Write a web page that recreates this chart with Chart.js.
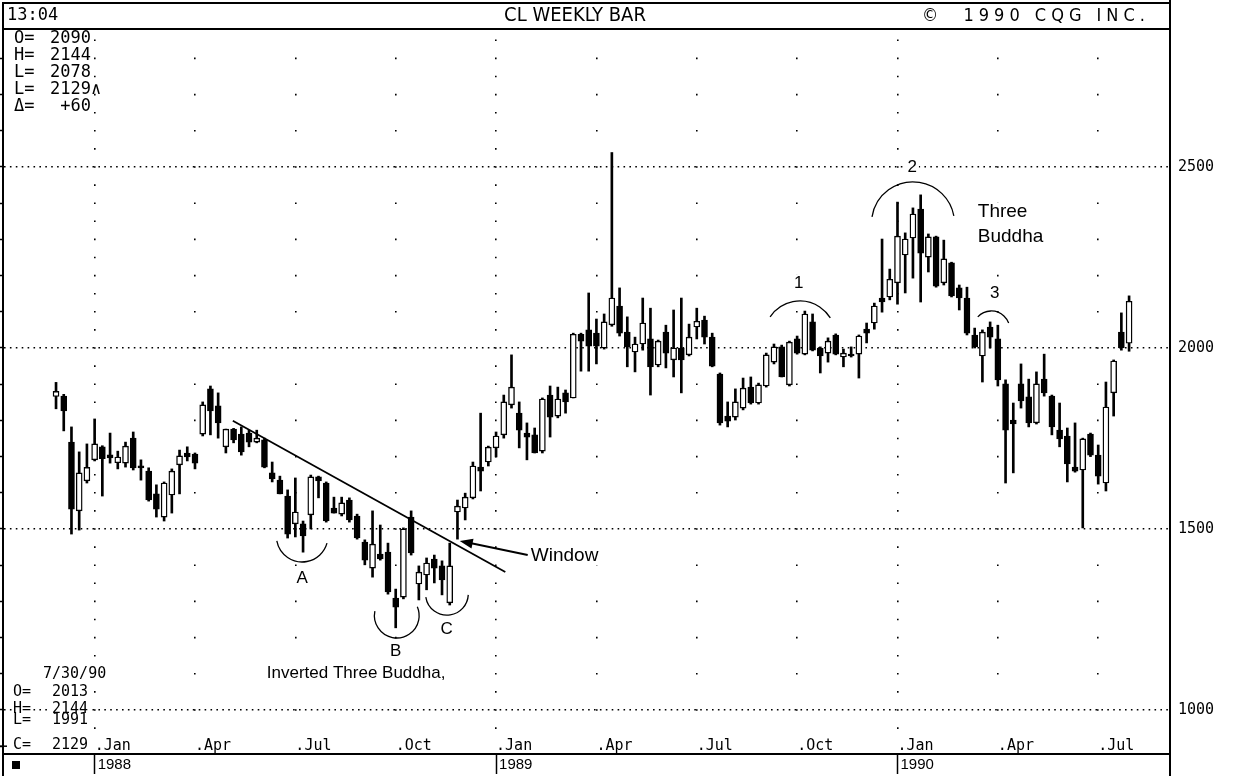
<!DOCTYPE html>
<html>
<head>
<meta charset="utf-8">
<title>CL Weekly Bar</title>
<script src="https://cdn.jsdelivr.net/npm/chart.js@4.4.1/dist/chart.umd.min.js"></script>
<style>
  html, body { margin: 0; padding: 0; background: #fff; }
  #wrap { width: 1239px; height: 776px; }
</style>
</head>
<body>
<div id="wrap"><canvas id="chart" width="1239" height="776"></canvas></div>
<script>
// weekly bars, week of 11/30/87 (index 0) through week of 7/30/90 (index 139)
const open = [
  1866, 1867, 1740, 1550, 1633, 1691, 1727, 1705, 1683, 1682,
  1751, 1674, 1660, 1597, 1533, 1594, 1677, 1710, 1707, 1762,
  1887, 1840, 1727, 1776, 1762, 1765, 1740, 1746, 1655, 1635,
  1591, 1514, 1514, 1539, 1644, 1627, 1558, 1541, 1580, 1536,
  1464, 1392, 1431, 1436, 1309, 1312, 1533, 1348, 1373, 1417,
  1398, 1296, 1547, 1558, 1586, 1671, 1685, 1724, 1760, 1843,
  1820, 1765, 1760, 1715, 1870, 1812, 1876, 1862, 2038, 2050,
  2041, 2000, 2064, 2116, 2044, 1989, 2011, 2025, 1953, 2044,
  1967, 2000, 1981, 2058, 2077, 2030, 1928, 1812, 1809, 1834,
  1892, 1848, 1895, 1961, 2003, 1898, 2025, 1983, 2072, 2000,
  1986, 2036, 1975, 1983, 1983, 2052, 2069, 2138, 2141, 2180,
  2257, 2304, 2384, 2251, 2307, 2180, 2235, 2166, 2138, 2036,
  1978, 2058, 2025, 1901, 1801, 1901, 1865, 1793, 1914, 1867,
  1773, 1757, 1671, 1663, 1762, 1704, 1627, 1876, 2044, 2013
];
const high = [
  1905, 1872, 1782, 1713, 1735, 1804, 1730, 1765, 1715, 1740,
  1768, 1691, 1669, 1622, 1630, 1666, 1718, 1727, 1710, 1851,
  1895, 1876, 1776, 1778, 1782, 1773, 1773, 1751, 1685, 1646,
  1608, 1641, 1522, 1649, 1646, 1630, 1588, 1588, 1586, 1541,
  1470, 1550, 1511, 1461, 1334, 1503, 1550, 1398, 1420, 1428,
  1412, 1461, 1580, 1599, 1685, 1820, 1729, 1768, 1870, 1981,
  1851, 1793, 1779, 1862, 1895, 1892, 1884, 2041, 2041, 2152,
  2080, 2094, 2540, 2166, 2086, 2030, 2138, 2110, 2022, 2063,
  2105, 2138, 2066, 2110, 2088, 2041, 1931, 1851, 1887, 1917,
  1920, 1903, 1986, 2011, 2008, 2019, 2033, 2102, 2094, 2003,
  2028, 2039, 1997, 2003, 2036, 2069, 2124, 2301, 2218, 2403,
  2318, 2387, 2423, 2315, 2309, 2298, 2237, 2174, 2168, 2055,
  2050, 2072, 2063, 1912, 1848, 1956, 1914, 1934, 1983, 1870,
  1848, 1779, 1793, 1751, 1765, 1732, 1906, 1967, 2097, 2144
];
const low = [
  1832, 1771, 1486, 1497, 1627, 1688, 1591, 1682, 1666, 1671,
  1663, 1635, 1577, 1533, 1522, 1544, 1597, 1688, 1666, 1757,
  1760, 1751, 1710, 1738, 1704, 1727, 1738, 1669, 1630, 1597,
  1475, 1478, 1436, 1500, 1586, 1519, 1544, 1536, 1519, 1472,
  1401, 1367, 1414, 1320, 1227, 1307, 1428, 1304, 1332, 1351,
  1318, 1290, 1472, 1525, 1583, 1605, 1674, 1699, 1751, 1834,
  1724, 1691, 1710, 1710, 1754, 1807, 1820, 1862, 1936, 1936,
  1956, 1997, 2060, 2033, 1948, 1934, 1994, 1870, 1948, 1945,
  1920, 1876, 1978, 2025, 2011, 1948, 1787, 1782, 1801, 1829,
  1845, 1845, 1892, 1956, 1920, 1895, 1983, 1981, 1992, 1931,
  1961, 1981, 1948, 1975, 1917, 2014, 2052, 2099, 2133, 2121,
  2152, 2193, 2127, 2210, 2168, 2174, 2141, 2105, 2036, 2000,
  1906, 2000, 1895, 1627, 1655, 1834, 1782, 1790, 1867, 1760,
  1727, 1630, 1657, 1503, 1700, 1624, 1605, 1812, 1994, 1991
];
const close = [
  1880, 1826, 1555, 1655, 1670, 1735, 1694, 1696, 1699, 1729,
  1669, 1669, 1580, 1555, 1627, 1660, 1702, 1699, 1682, 1843,
  1826, 1793, 1776, 1746, 1713, 1740, 1751, 1671, 1638, 1597,
  1486, 1547, 1481, 1644, 1633, 1522, 1544, 1572, 1525, 1475,
  1414, 1458, 1417, 1326, 1284, 1500, 1434, 1381, 1406, 1392,
  1359, 1398, 1563, 1588, 1674, 1660, 1726, 1757, 1851, 1892,
  1773, 1754, 1710, 1859, 1809, 1859, 1851, 2038, 2019, 2005,
  2005, 2072, 2138, 2041, 2003, 2011, 2069, 1948, 2019, 1986,
  2000, 1967, 2030, 2074, 2030, 1950, 1793, 1798, 1851, 1889,
  1848, 1898, 1981, 2003, 1920, 2016, 1986, 2094, 1994, 1978,
  2019, 1983, 1986, 1978, 2033, 2041, 2116, 2127, 2190, 2309,
  2301, 2370, 2262, 2307, 2171, 2246, 2144, 2138, 2041, 2003,
  2044, 2030, 1912, 1773, 1790, 1854, 1793, 1901, 1876, 1782,
  1749, 1680, 1660, 1749, 1704, 1646, 1837, 1964, 2000, 2129
];

// first bar of each quarter, and its label
const quarterTicks = [5, 18, 31, 44, 57, 70, 83, 96, 109, 122, 135];
const quarterLabels = ['.Jan', '.Apr', '.Jul', '.Oct', '.Jan', '.Apr', '.Jul', '.Oct', '.Jan', '.Apr', '.Jul'];
const yearTicks = [5, 57, 109];
const yearLabels = ['1988', '1989', '1990'];
const priceTicks = [900, 1000, 1100, 1200, 1300, 1400, 1500, 1600, 1700, 1800, 1900,
                    2000, 2100, 2200, 2300, 2400, 2500, 2600, 2700, 2800];

const MONO = '"DejaVu Sans Mono", "Liberation Mono", monospace';
const SANS = '"Liberation Sans", Arial, sans-serif';
const NARROW = '"Liberation Sans Narrow", "DejaVu Sans Condensed", "Liberation Sans", sans-serif';

// dotted vertical grid: a dot every 100 (every 50 on year lines)
function vDash(c) {
  const ys = c.chart.scales.y;
  const step = c.tick && yearTicks.includes(c.tick.value) ? 50 : 100;
  const unit = (ys.bottom - ys.top) / (ys.max - ys.min);
  const period = step * unit;
  const p0 = (ys.max - Math.floor(ys.max / step) * step) * unit;
  const dot = 1.6;
  const off = (((dot / 2 - p0) % period) + period) % period;
  return { dash: [dot, period - dot], off };
}

// circle arc through three pixel points
function arc3(ctx, p1, p2, p3) {
  const [x1, y1] = p1, [x2, y2] = p2, [x3, y3] = p3;
  const d = 2 * (x1 * (y2 - y3) + x2 * (y3 - y1) + x3 * (y1 - y2));
  const s1 = x1 * x1 + y1 * y1, s2 = x2 * x2 + y2 * y2, s3 = x3 * x3 + y3 * y3;
  const ux = (s1 * (y2 - y3) + s2 * (y3 - y1) + s3 * (y1 - y2)) / d;
  const uy = (s1 * (x3 - x2) + s2 * (x1 - x3) + s3 * (x2 - x1)) / d;
  const r = Math.hypot(x1 - ux, y1 - uy);
  const a1 = Math.atan2(y1 - uy, x1 - ux);
  const a2 = Math.atan2(y2 - uy, x2 - ux);
  const a3 = Math.atan2(y3 - uy, x3 - ux);
  const norm = a => ((a % (2 * Math.PI)) + 2 * Math.PI) % (2 * Math.PI);
  const cw = norm(a2 - a1) < norm(a3 - a1);
  ctx.beginPath();
  ctx.arc(ux, uy, r, a1, a3, !cw);
  ctx.stroke();
}

// chart notes, in (bar index, price)
const trendLine = [[22.9, 1799], [58.2, 1381]];
const cups = [
  [[28.6, 1467], [31.9, 1409], [35.1, 1461]],
  [[41.3, 1273], [44.2, 1199], [46.8, 1285]],
  [[47.9, 1312], [50.6, 1262], [53.4, 1318]],
  [[92.5, 2086], [96.4, 2130], [100.3, 2083]],
  [[105.7, 2362], [111.0, 2459], [116.3, 2365]],
  [[119.4, 2086], [121.4, 2102], [123.4, 2069]]
];
const windowArrow = [[61.1, 1428], [52.3, 1467]];
const noteTexts = [
  ['A', 31.9, 1365, 'center', 17],
  ['B', 44.0, 1163, 'center', 17],
  ['C', 50.6, 1224, 'center', 17],
  ['1', 96.2, 2180, 'center', 17],
  ['2', 110.9, 2500, 'center', 17],
  ['3', 121.6, 2152, 'center', 17],
  ['Three', 119.4, 2376, 'left', 19],
  ['Buddha', 119.4, 2307, 'left', 19],
  ['Window', 61.5, 1425, 'left', 19],
  ['Inverted Three Buddha,', 27.3, 1102, 'left', 17]
];

const notes = {
  id: 'notes',
  afterDatasetsDraw(chart) {
    const { ctx, scales: { x, y } } = chart;
    const P = ([i, v]) => [x.getPixelForValue(i), y.getPixelForValue(v)];
    ctx.save();
    ctx.strokeStyle = '#000';
    ctx.fillStyle = '#000';

    ctx.lineWidth = 1.8;
    const [t1, t2] = trendLine.map(P);
    ctx.beginPath(); ctx.moveTo(t1[0], t1[1]); ctx.lineTo(t2[0], t2[1]); ctx.stroke();

    ctx.lineWidth = 1.3;
    cups.forEach(c => arc3(ctx, ...c.map(P)));

    // arrow to the window
    const [tail, tip] = windowArrow.map(P);
    const ang = Math.atan2(tip[1] - tail[1], tip[0] - tail[0]);
    ctx.lineWidth = 2;
    ctx.beginPath(); ctx.moveTo(tail[0], tail[1]);
    ctx.lineTo(tip[0] - 8 * Math.cos(ang), tip[1] - 8 * Math.sin(ang)); ctx.stroke();
    ctx.beginPath();
    ctx.moveTo(tip[0], tip[1]);
    ctx.lineTo(tip[0] - 13 * Math.cos(ang) + 5 * Math.sin(ang), tip[1] - 13 * Math.sin(ang) - 5 * Math.cos(ang));
    ctx.lineTo(tip[0] - 13 * Math.cos(ang) - 5 * Math.sin(ang), tip[1] - 13 * Math.sin(ang) + 5 * Math.cos(ang));
    ctx.closePath(); ctx.fill();

    ctx.textBaseline = 'middle';
    noteTexts.forEach(([t, i, v, align, size]) => {
      const [px, py] = P([i, v]);
      ctx.font = size + 'px ' + SANS;
      ctx.textAlign = align;
      const w = ctx.measureText(t).width;
      const left = align === 'center' ? px - w / 2 : px;
      ctx.fillStyle = '#fff';
      ctx.fillRect(left - 2, py - size / 2, w + 4, size);
      ctx.fillStyle = '#000';
      ctx.fillText(t, px, py);
    });
    ctx.restore();
  }
};

function textRow(ctx, parts, y, font, bg) {
  ctx.font = font;
  parts.forEach(([t, px]) => {
    if (bg) {
      const w = ctx.measureText(t).width;
      ctx.fillStyle = '#fff';
      ctx.fillRect(px - 1, y - 7, w + 2, 14);
    }
    ctx.fillStyle = '#000';
    ctx.fillText(t, px, y);
  });
}

const frame = {
  id: 'frame',
  afterDraw(chart) {
    const { ctx, chartArea, scales } = chart;
    ctx.save();
    ctx.strokeStyle = '#000';
    ctx.lineWidth = 2;
    ctx.beginPath();
    ctx.moveTo(2, 3); ctx.lineTo(chartArea.right, 3);
    ctx.moveTo(3, 2); ctx.lineTo(3, 776);
    ctx.moveTo(chartArea.right, 0); ctx.lineTo(chartArea.right, 776);
    ctx.moveTo(2, chartArea.top); ctx.lineTo(chartArea.right, chartArea.top);
    ctx.stroke();
    // left price tick below the plot box
    const y900 = scales.y.getPixelForValue(900);
    ctx.lineWidth = 1.5;
    ctx.beginPath(); ctx.moveTo(0, y900); ctx.lineTo(7, y900); ctx.stroke();

    ctx.textBaseline = 'middle';
    ctx.textAlign = 'left';
    ctx.fillStyle = '#000';
    ctx.font = '17px ' + MONO;
    ctx.fillText('13:04', 7, 16);
    ctx.font = '20px ' + NARROW;
    ctx.textAlign = 'center';
    ctx.fillText('CL WEEKLY BAR', 575, 16);
    ctx.textAlign = 'left';
    ctx.font = '18px ' + NARROW;
    ctx.letterSpacing = '5px';
    ctx.fillText('\u00A9  1990 CQG INC.', 922, 16);
    ctx.letterSpacing = '0px';

    // last bar summary, top left
    const topFont = '17px ' + MONO;
    [['O=', '2090'], ['H=', '2144'], ['L=', '2078'], ['L=', '2129\u2227'], ['\u0394=', ' +60']]
      .forEach(([k, v], n) => textRow(ctx, [[k, 14], [v, 50]], 39 + n * 17, topFont, false));

    // bottom left box
    const botFont = '15px ' + MONO;
    textRow(ctx, [['7/30/90', 43]], 674, botFont, true);
    textRow(ctx, [['O=', 13], ['2013', 52]], 692, botFont, true);
    textRow(ctx, [['H=', 13], ['2144', 52]], 709, botFont, true);
    textRow(ctx, [['L=', 13], ['1991', 52]], 720, botFont, false);
    textRow(ctx, [['C=', 13], ['2129', 52]], 745, botFont, true);

    ctx.fillRect(12, 761, 8, 8);
    ctx.restore();
  }
};

const bodies = close.map((c, i) => ({ x: i, y: [open[i], c] }));
const wicks = high.map((h, i) => ({ x: i, y: [low[i], h] }));

const xMin = -6.74, xMax = 144.3;
const yMin = 925.4, yMax = 2881.2;

new Chart(document.getElementById('chart'), {
  type: 'bar',
  data: {
    datasets: [
      {
        label: 'Body',
        data: bodies,
        backgroundColor: close.map((c, i) => c >= open[i] ? '#fff' : '#000'),
        borderColor: '#000',
        borderWidth: 1.4,
        borderSkipped: false,
        barThickness: 6,
        minBarLength: 2,
        grouped: false,
        order: 0
      },
      {
        label: 'Range',
        data: wicks,
        backgroundColor: '#000',
        barThickness: 2,
        grouped: false,
        order: 1
      }
    ]
  },
  options: {
    responsive: false,
    animation: false,
    devicePixelRatio: 1,
    events: [],
    layout: { padding: { top: 29, left: 0, right: 0, bottom: 0 } },
    plugins: { legend: { display: false }, tooltip: { enabled: false } },
    scales: {
      x: {
        type: 'linear',
        position: 'bottom',
        weight: 0,
        min: xMin,
        max: xMax,
        offset: false,
        afterBuildTicks: s => { s.ticks = quarterTicks.map(v => ({ value: v })); },
        afterFit: s => { s.height = 17; },
        ticks: {
          callback: (v, i) => quarterLabels[i],
          autoSkip: false,
          maxRotation: 0,
          align: 'start',
          padding: 0,
          color: '#000',
          font: { family: MONO, size: 15 }
        },
        grid: { offset: false, color: '#000', lineWidth: 1.6, drawTicks: false },
        border: { display: false, dash: c => vDash(c).dash, dashOffset: c => vDash(c).off }
      },
      xYear: {
        type: 'linear',
        position: 'bottom',
        weight: 1,
        min: xMin,
        max: xMax,
        offset: false,
        afterBuildTicks: s => { s.ticks = yearTicks.map(v => ({ value: v })); },
        afterFit: s => { s.height = 22; },
        ticks: {
          callback: (v, i) => yearLabels[i],
          autoSkip: false,
          maxRotation: 0,
          align: 'start',
          labelOffset: 3,
          padding: -18,
          color: '#000',
          font: { family: SANS, size: 15 }
        },
        grid: { offset: false, drawOnChartArea: false, drawTicks: true, tickLength: 20, tickWidth: 1.5, tickColor: '#000' },
        border: { display: true, color: '#000', width: 2 }
      },
      y: {
        type: 'linear',
        position: 'right',
        min: yMin,
        max: yMax,
        afterBuildTicks: s => { s.ticks = priceTicks.map(v => ({ value: v })); },
        afterFit: s => { s.width = 69; },
        ticks: {
          callback: v => (v % 500 === 0 ? String(v) : ''),
          padding: 8,
          color: '#000',
          font: { family: MONO, size: 15 }
        },
        grid: {
          color: c => (c.tick && c.tick.value % 500 === 0 ? '#000' : 'rgba(0,0,0,0)'),
          lineWidth: 1.6,
          drawTicks: false
        },
        border: { display: false, dash: [1.6, 4.3] }
      },
      yl: {
        type: 'linear',
        position: 'left',
        min: yMin,
        max: yMax,
        afterBuildTicks: s => { s.ticks = priceTicks.map(v => ({ value: v })); },
        afterFit: s => { s.width = 4; },
        ticks: { display: false },
        grid: { drawOnChartArea: false, drawTicks: true, tickLength: 5, tickWidth: 1.5, tickColor: '#000' },
        border: { display: false }
      }
    }
  },
  plugins: [notes, frame]
});
</script>
</body>
</html>
